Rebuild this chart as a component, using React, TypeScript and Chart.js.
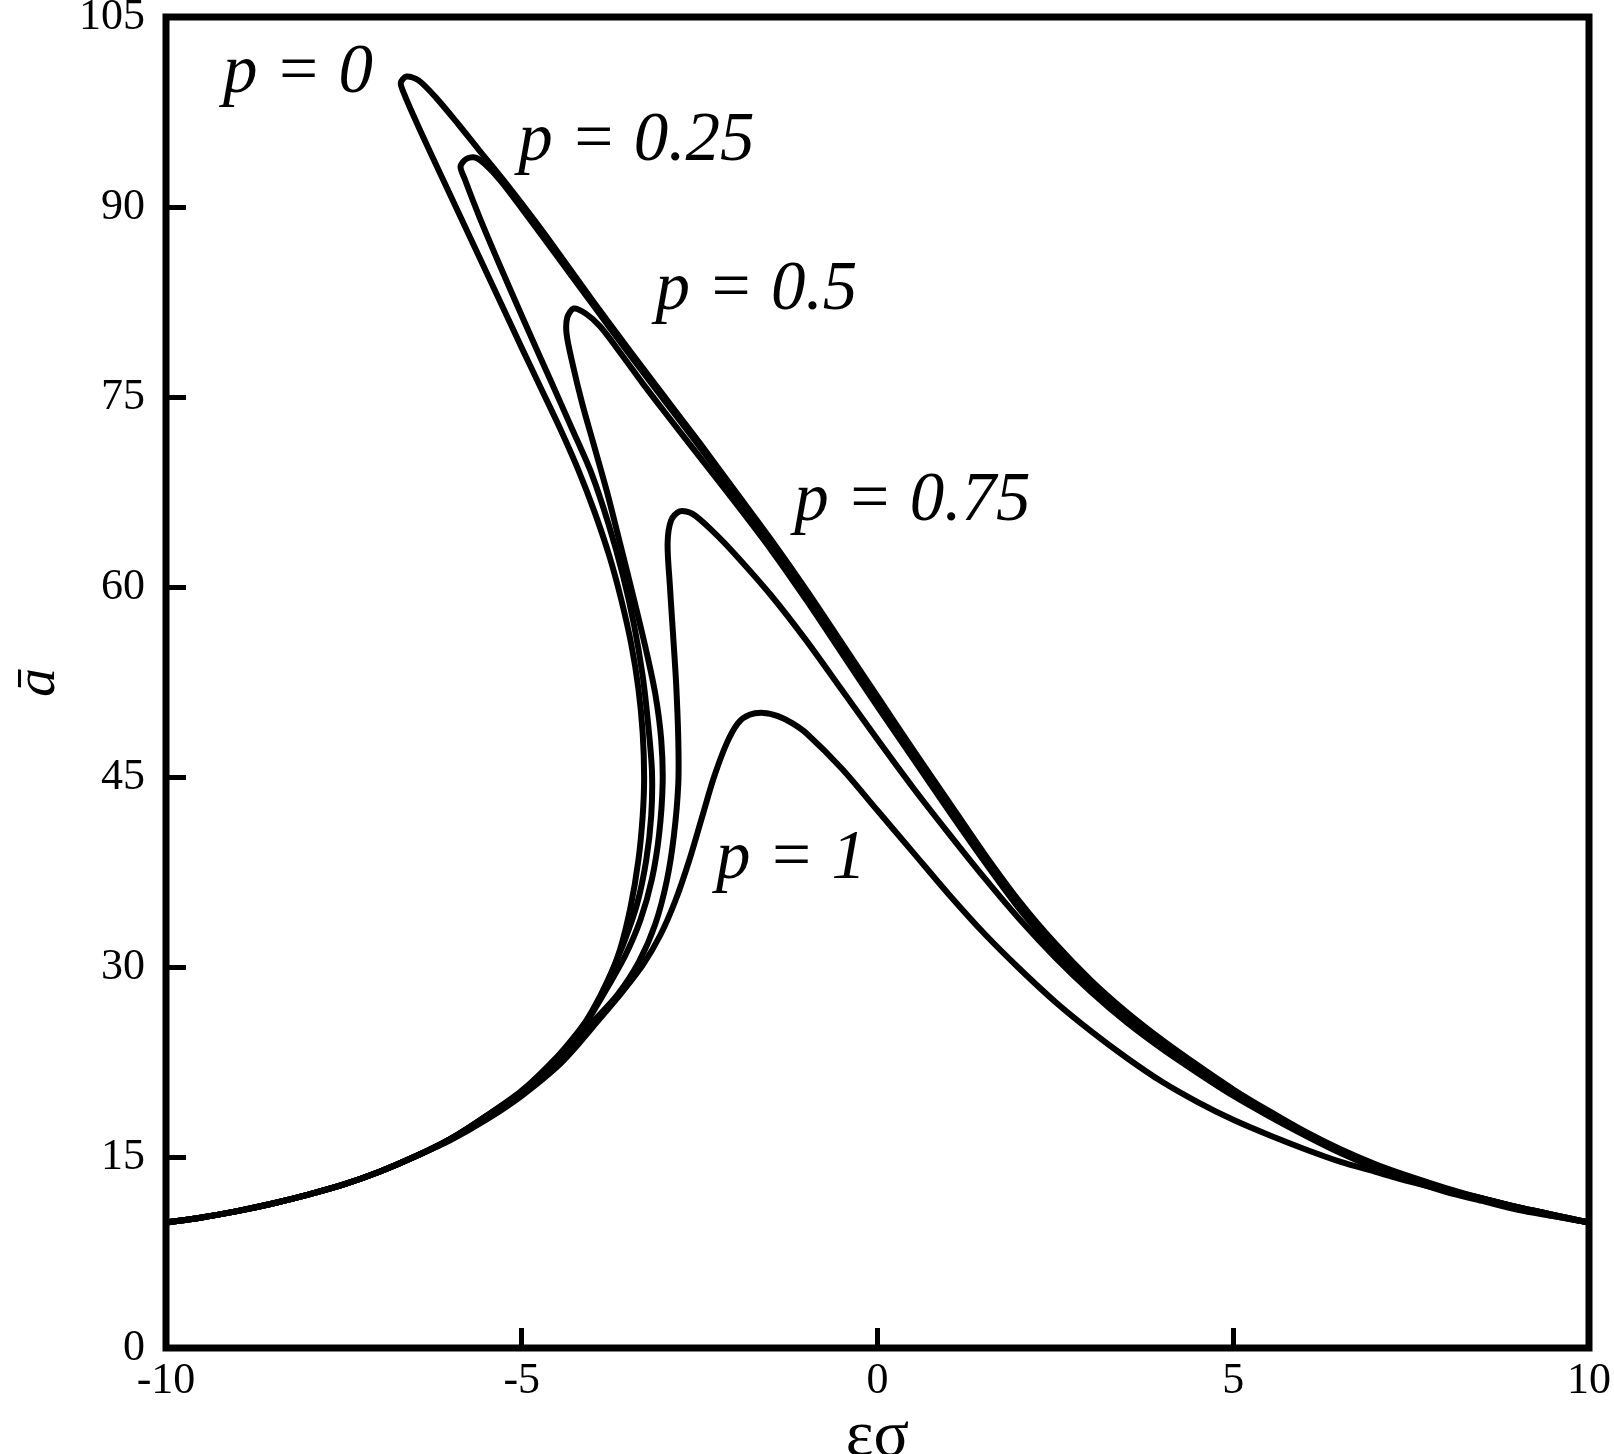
import React, { useEffect, useRef } from "react";
import { Chart, registerables } from "chart.js";

Chart.register(...registerables);

// Axis ticks
const X_TICKS = [-10, -5, 0, 5, 10];
const Y_TICKS = [0, 15, 30, 45, 60, 75, 90, 105];

// Curve labels (p values)
const P_VALUES = ["0", "0.25", "0.5", "0.75", "1"];

// Frequency-response curves [εσ, ā], in path order
const CURVE_P0: [number, number][] = [
  [-10, 9.9], [-9.5, 10.3], [-9, 10.8], [-8.5, 11.4], [-8, 12.1], [-7.5, 12.9], [-7, 13.9],
  [-6.5, 15.1], [-6, 16.5], [-5.5, 18.3], [-5, 20.3], [-4.5, 23.0], [-4.2, 25.0], [-4.0, 26.6],
  [-3.8, 28.7], [-3.62, 31.4], [-3.47, 34.8], [-3.36, 38.5], [-3.3, 42.0], [-3.28, 45.0],
  [-3.3, 48.5], [-3.36, 52.0], [-3.46, 55.5], [-3.6, 59.0], [-3.77, 62.5], [-3.98, 66.0],
  [-4.2, 69.2], [-4.45, 72.4], [-4.72, 75.6], [-5.0, 78.9], [-5.25, 81.9], [-5.5, 84.9],
  [-5.75, 87.9], [-6.0, 90.9], [-6.25, 93.9], [-6.48, 96.7], [-6.65, 98.9], [-6.7, 99.8],
  [-6.62, 100.3], [-6.45, 100.0], [-6.2, 98.6], [-5.9, 96.6], [-5.6, 94.5], [-5.21, 91.8],
  [-4.8, 88.8], [-4.5, 86.5], [-4.0, 82.6], [-3.5, 78.8], [-3.0, 75.1], [-2.5, 71.4],
  [-2.0, 67.6], [-1.5, 63.8], [-1.0, 59.8], [-0.5, 55.6], [0, 51.4], [0.5, 47.2], [1.0, 43.1],
  [1.5, 39.0], [2.0, 35.2], [2.5, 31.9], [3.0, 29.0], [3.5, 26.5], [4.0, 24.3], [4.5, 22.3],
  [5.0, 20.4], [5.5, 18.7], [6.0, 17.1], [6.5, 15.7], [7.0, 14.5], [7.5, 13.5], [8.0, 12.6],
  [8.5, 11.8], [9.0, 11.1], [9.5, 10.5], [10, 9.9],
];

const CURVE_P025: [number, number][] = [
  [-10, 9.9], [-9.5, 10.3], [-9, 10.8], [-8.5, 11.4], [-8, 12.1], [-7.5, 12.9], [-7, 13.9],
  [-6.5, 15.1], [-6, 16.5], [-5.5, 18.3], [-5, 20.2], [-4.5, 22.8], [-4.2, 24.9], [-4.0, 26.7],
  [-3.8, 28.9], [-3.57, 31.9], [-3.38, 35.0], [-3.25, 38.5], [-3.18, 42.0], [-3.17, 45.5],
  [-3.22, 49.0], [-3.3, 53.0], [-3.42, 57.0], [-3.58, 61.0], [-3.78, 65.0], [-4.02, 69.0],
  [-4.3, 72.6], [-4.6, 76.4], [-4.95, 80.8], [-5.3, 85.3], [-5.6, 89.3], [-5.8, 92.2],
  [-5.86, 93.2], [-5.78, 93.8], [-5.65, 93.9], [-5.5, 93.3], [-5.3, 92.1], [-5.0, 89.9],
  [-4.5, 86.1], [-4.0, 82.3], [-3.5, 78.5], [-3.0, 74.8], [-2.5, 71.1], [-2.0, 67.3],
  [-1.5, 63.5], [-1.0, 59.5], [-0.5, 55.3], [0, 51.1], [0.5, 47.0], [1.0, 42.9], [1.5, 38.8],
  [2.0, 35.0], [2.5, 31.7], [3.0, 28.9], [3.5, 26.4], [4.0, 24.2], [4.5, 22.2], [5.0, 20.3],
  [5.5, 18.6], [6.0, 17.0], [6.5, 15.6], [7.0, 14.4], [7.5, 13.4], [8.0, 12.5], [8.5, 11.8],
  [9.0, 11.1], [9.5, 10.5], [10, 9.9],
];

const CURVE_P05: [number, number][] = [
  [-10, 9.9], [-9.5, 10.3], [-9, 10.8], [-8.5, 11.4], [-8, 12.1], [-7.5, 12.9], [-7, 13.9],
  [-6.5, 15.1], [-6, 16.5], [-5.5, 18.2], [-5, 20.1], [-4.5, 22.6], [-4.2, 24.7], [-4.0, 26.5],
  [-3.8, 28.4], [-3.55, 30.9], [-3.33, 33.8], [-3.17, 37.0], [-3.07, 40.5], [-3.02, 44.5],
  [-3.04, 48.0], [-3.12, 51.5], [-3.25, 55.0], [-3.42, 59.0], [-3.62, 63.5], [-3.8, 67.5],
  [-4.0, 71.5], [-4.15, 74.5], [-4.28, 77.5], [-4.37, 80.0], [-4.36, 81.3], [-4.27, 82.0],
  [-4.1, 81.6], [-3.9, 80.6], [-3.6, 78.4], [-3.3, 76.1], [-3.0, 73.9], [-2.5, 70.3],
  [-2.0, 66.7], [-1.5, 63.0], [-1.0, 59.0], [-0.5, 54.8], [0, 50.6], [0.5, 46.5], [1.0, 42.4],
  [1.5, 38.4], [2.0, 34.6], [2.5, 31.3], [3.0, 28.5], [3.5, 26.0], [4.0, 23.9], [4.5, 21.9],
  [5.0, 20.1], [5.5, 18.5], [6.0, 16.9], [6.5, 15.5], [7.0, 14.3], [7.5, 13.3], [8.0, 12.4],
  [8.5, 11.7], [9.0, 11.0], [9.5, 10.4], [10, 9.9],
];

const CURVE_P075: [number, number][] = [
  [-10, 9.9], [-9.5, 10.3], [-9, 10.8], [-8.5, 11.4], [-8, 12.1], [-7.5, 12.9], [-7, 13.9],
  [-6.5, 15.1], [-6, 16.5], [-5.5, 18.2], [-5, 20.0], [-4.5, 22.4], [-4.2, 24.3], [-4.0, 25.7],
  [-3.65, 27.9], [-3.35, 30.5], [-3.12, 33.5], [-2.96, 36.9], [-2.86, 40.5], [-2.8, 44.5],
  [-2.8, 48.0], [-2.83, 52.4], [-2.87, 56.0], [-2.92, 60.3], [-2.95, 63.5], [-2.9, 65.3],
  [-2.78, 66.0], [-2.6, 65.8], [-2.31, 64.4], [-2.0, 62.6], [-1.5, 59.4], [-1.0, 55.8],
  [-0.5, 51.9], [0, 48.0], [0.5, 44.2], [1.0, 40.6], [1.5, 37.1], [2.0, 33.8], [2.5, 30.8],
  [3.0, 28.1], [3.5, 25.7], [4.0, 23.6], [4.5, 21.7], [5.0, 19.9], [5.5, 18.3], [6.0, 16.8],
  [6.5, 15.4], [7.0, 14.2], [7.5, 13.2], [8.0, 12.3], [8.5, 11.6], [9.0, 10.9], [9.5, 10.4],
  [10, 9.9],
];

const CURVE_P1: [number, number][] = [
  [-10, 9.9], [-9.5, 10.3], [-9, 10.8], [-8.5, 11.4], [-8, 12.1], [-7.5, 12.9], [-7, 13.9],
  [-6.5, 15.1], [-6, 16.4], [-5.5, 18.0], [-5, 19.9], [-4.5, 22.2], [-4.2, 24.0], [-3.9, 26.0],
  [-3.6, 28.0], [-3.3, 30.2], [-3.05, 32.6], [-2.84, 35.3], [-2.65, 38.4], [-2.47, 41.8],
  [-2.3, 45.0], [-2.12, 47.7], [-1.96, 49.3], [-1.8, 49.95], [-1.6, 50.1], [-1.4, 49.85],
  [-1.2, 49.3], [-1.0, 48.5], [-0.5, 45.7], [0, 42.4], [0.5, 39.1], [1.0, 35.8], [1.5, 32.7],
  [2.0, 29.9], [2.5, 27.3], [3.0, 25.0], [3.5, 22.9], [4.0, 21.0], [4.5, 19.4], [5.0, 18.0],
  [5.5, 16.8], [6.0, 15.7], [6.5, 14.7], [7.0, 13.9], [7.5, 13.1], [8.0, 12.4], [8.5, 11.8],
  [9.0, 11.1], [9.5, 10.5], [10, 9.9],
];

const CURVES = [CURVE_P0, CURVE_P025, CURVE_P05, CURVE_P075, CURVE_P1];

// Where each "p = …" label starts (left, baseline) in data units
const LABEL_ANCHORS: [number, number][] = [
  [-9.2, 99.1],
  [-5.05, 93.7],
  [-3.12, 82.0],
  [-1.17, 65.3],
  [-2.27, 37.1],
];

const SERIF = "'Liberation Serif', 'Times New Roman', serif";

const zeroPadding = (s: any) => {
  s.paddingTop = 0;
  s.paddingBottom = 0;
  s.paddingLeft = 0;
  s.paddingRight = 0;
};

export default function App() {
  const ref = useRef<HTMLCanvasElement>(null);

  useEffect(() => {
    document.body.style.margin = "0";
    const canvas = ref.current;
    if (!canvas) return;

    const framePlugin = {
      id: "frameAndLabels",
      afterDatasetsDraw(chart: any) {
        const { ctx, chartArea: a, scales } = chart;
        ctx.save();
        ctx.lineWidth = 7;
        ctx.strokeStyle = "#000";
        ctx.strokeRect(a.left, a.top, a.right - a.left, a.bottom - a.top);
        ctx.fillStyle = "#000";
        ctx.font = `italic 69px ${SERIF}`;
        ctx.textAlign = "left";
        ctx.textBaseline = "alphabetic";
        P_VALUES.forEach((p, i) => {
          const [lx, ly] = LABEL_ANCHORS[i];
          ctx.fillText(`p = ${p}`, scales.x.getPixelForValue(lx), scales.y.getPixelForValue(ly));
        });
        ctx.restore();
      },
    };

    const chart = new Chart(canvas, {
      type: "scatter",
      data: {
        datasets: CURVES.map((c, i) => ({
          label: `p = ${P_VALUES[i]}`,
          data: c.map(([x, y]) => ({ x, y })),
          showLine: true,
          borderColor: "#000",
          backgroundColor: "#000",
          borderWidth: 6,
          pointRadius: 0,
          pointHoverRadius: 0,
          tension: 0.3,
          fill: false,
        })),
      },
      options: {
        animation: false,
        responsive: false,
        devicePixelRatio: 1,
        layout: { padding: { top: 17, right: 25, bottom: 0, left: 0 } },
        plugins: { legend: { display: false }, tooltip: { enabled: false } },
        scales: {
          x: {
            type: "linear",
            min: -10,
            max: 10,
            afterFit: (s: any) => {
              s.height = 106;
              zeroPadding(s);
            },
            afterBuildTicks: (s: any) => {
              s.ticks = X_TICKS.map((v) => ({ value: v }));
            },
            grid: {
              display: true,
              drawOnChartArea: false,
              drawTicks: true,
              tickLength: -20,
              lineWidth: 5,
              color: "#000",
            },
            border: { display: false },
            ticks: {
              color: "#000",
              font: { family: SERIF, size: 44 },
              padding: 27,
              maxRotation: 0,
              autoSkip: false,
            },
            title: {
              display: true,
              text: "εσ",
              color: "#000",
              font: { family: SERIF, size: 66, lineHeight: 0.48 },
              padding: { top: 0, bottom: 0 },
            },
          },
          y: {
            type: "linear",
            min: 0,
            max: 105,
            afterFit: (s: any) => {
              s.width = 166;
              zeroPadding(s);
            },
            afterBuildTicks: (s: any) => {
              s.ticks = Y_TICKS.map((v) => ({ value: v }));
            },
            grid: {
              display: true,
              drawOnChartArea: false,
              drawTicks: true,
              tickLength: -20,
              lineWidth: 5,
              color: "#000",
            },
            border: { display: false },
            ticks: {
              color: "#000",
              font: { family: SERIF, size: 44 },
              padding: 41,
              autoSkip: false,
            },
            title: {
              display: true,
              text: "ā",
              color: "#000",
              font: { family: SERIF, size: 58, style: "italic", lineHeight: 1 },
              padding: { top: 10, bottom: 0 },
            },
          },
        },
      },
      plugins: [framePlugin],
    });

    return () => chart.destroy();
  }, []);

  return (
    <canvas
      ref={ref}
      width={1614}
      height={1454}
      style={{ display: "block", width: 1614, height: 1454 }}
    />
  );
}
